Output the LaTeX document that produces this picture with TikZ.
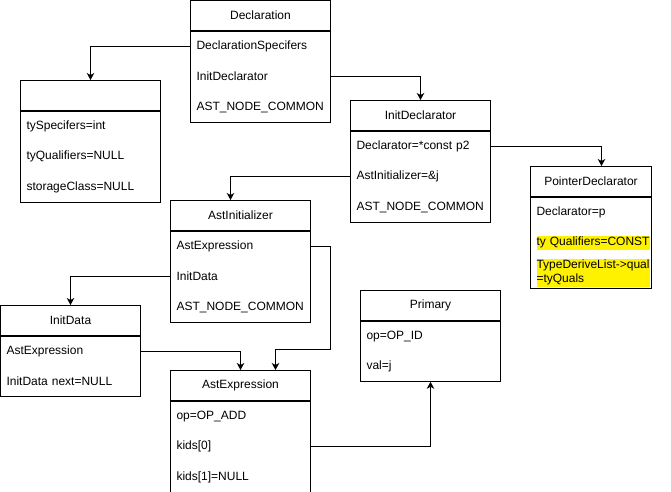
\documentclass[tikz,border=0pt]{standalone}
\usepackage{fontspec}
\setmainfont{Liberation Sans}
\usepackage{tikz}
\usetikzlibrary{positioning,arrows.meta}

\newcommand{\hlt}[1]{{\setlength{\fboxsep}{0pt}\colorbox{yellow}{\makebox[113pt][l]{\strut#1}}}}

\begin{document}
\begin{tikzpicture}[x=1pt,y=-1pt,
    font=\fontsize{12}{14}\selectfont,
    hdr/.style={draw,line width=1pt,minimum width=#1,minimum height=30pt,inner sep=0pt,anchor=north west},
    hdr/.default=140pt,
    fld/.style={text width=#1,inner xsep=6pt,inner ysep=0pt,minimum height=30pt,align=left},
    fld/.default=128pt,
    box/.style={line width=1pt},
    arr/.style={-{Stealth[length=7pt,width=7.5pt,inset=2pt]},line width=1pt}]
        \useasboundingbox (0,0) rectangle (671,491);

        %Declaration
        \node[hdr] (declH) at (190,0) {Declaration};
        \node[fld,below=0pt of declH] (decl1) {DeclarationSpecifers};
        \node[fld,below=0pt of decl1] (decl2) {InitDeclarator};
        \node[fld,below=0pt of decl2] (decl3) {AST\_NODE\_COMMON};
        \draw[box] (decl1.north west) rectangle (decl3.south east);

        %specifiers
        \node[hdr] (specH) at (20,80) {};
        \node[fld,below=0pt of specH] (spec1) {tySpecifers=int};
        \node[fld,below=0pt of spec1] (spec2) {tyQualifiers=NULL};
        \node[fld,below=0pt of spec2] (spec3) {storageClass=NULL};
        \draw[box] (spec1.north west) rectangle (spec3.south east);

        %InitDeclarator
        \node[hdr] (initH) at (350,100) {InitDeclarator};
        \node[fld,below=0pt of initH] (init1) {Declarator=*const p2};
        \node[fld,below=0pt of init1] (init2) {AstInitializer=\&j};
        \node[fld,below=0pt of init2] (init3) {AST\_NODE\_COMMON};
        \draw[box] (init1.north west) rectangle (init3.south east);

        %PointerDeclarator
        \node[hdr=121pt] (ptrH) at (530,166) {PointerDeclarator};
        \node[fld=109pt,below=0pt of ptrH] (ptr1) {Declarator=p};
        \node[fld=109pt,below=0pt of ptr1] (ptr2) {\hlt{ty Qualifiers=CONST}};
        \node[fld=109pt,below=0pt of ptr2] (ptr3) {\hlt{TypeDeriveList->qual}\\\hlt{=tyQuals}};
        \draw[box] (ptr1.north west) rectangle (ptr3.south east);

        %AstInitializer
        \node[hdr] (astiH) at (170,200) {AstInitializer};
        \node[fld,below=0pt of astiH] (asti1) {AstExpression};
        \node[fld,below=0pt of asti1] (asti2) {InitData};
        \node[fld,below=0pt of asti2] (asti3) {AST\_NODE\_COMMON};
        \draw[box] (asti1.north west) rectangle (asti3.south east);

        %InitData
        \node[hdr] (initdH) at (0,305) {InitData};
        \node[fld,below=0pt of initdH] (initd1) {AstExpression};
        \node[fld,below=0pt of initd1] (initd2) {InitData next=NULL};
        \draw[box] (initd1.north west) rectangle (initd2.south east);

        %AstExpression
        \node[hdr] (exprH) at (170,370) {AstExpression};
        \node[fld,below=0pt of exprH] (expr1) {op=OP\_ADD};
        \node[fld,below=0pt of expr1] (expr2) {kids[0]};
        \node[fld,below=0pt of expr2] (expr3) {kids[1]=NULL};
        \draw[box] (expr1.north west) rectangle (expr3.south east);

        %Primary
        \node[hdr] (primH) at (360,290) {Primary};
        \node[fld,below=0pt of primH] (prim1) {op=OP\_ID};
        \node[fld,below=0pt of prim1] (prim2) {val=j};
        \draw[box] (prim1.north west) rectangle (prim2.south east);

        %decl>spec
        \draw[arr] (decl1.west) -| (specH.north);
        %decl>init
        \draw[arr] (decl2.east) -| (initH.north);
        %init>ptr
        \draw[arr] (init1.east) -| ([xshift=10.5pt]ptrH.north);
        %init>asti
        \draw[arr] (init2.west) -| ([xshift=-10pt]astiH.north);
        %asti>initd
        \draw[arr] (asti2.west) -| (initdH.north);
        %asti>expr
        \draw[arr] (asti1.east) -- ++(20pt,0) |- ([xshift=35pt,yshift=21pt]exprH.north) -- ([xshift=35pt]exprH.north);
        %initd>expr
        \draw[arr] (initd1.east) -| (exprH.north);
        %expr>prim
        \draw[arr] (expr2.east) -| (prim2.south);
\end{tikzpicture}
\end{document}
